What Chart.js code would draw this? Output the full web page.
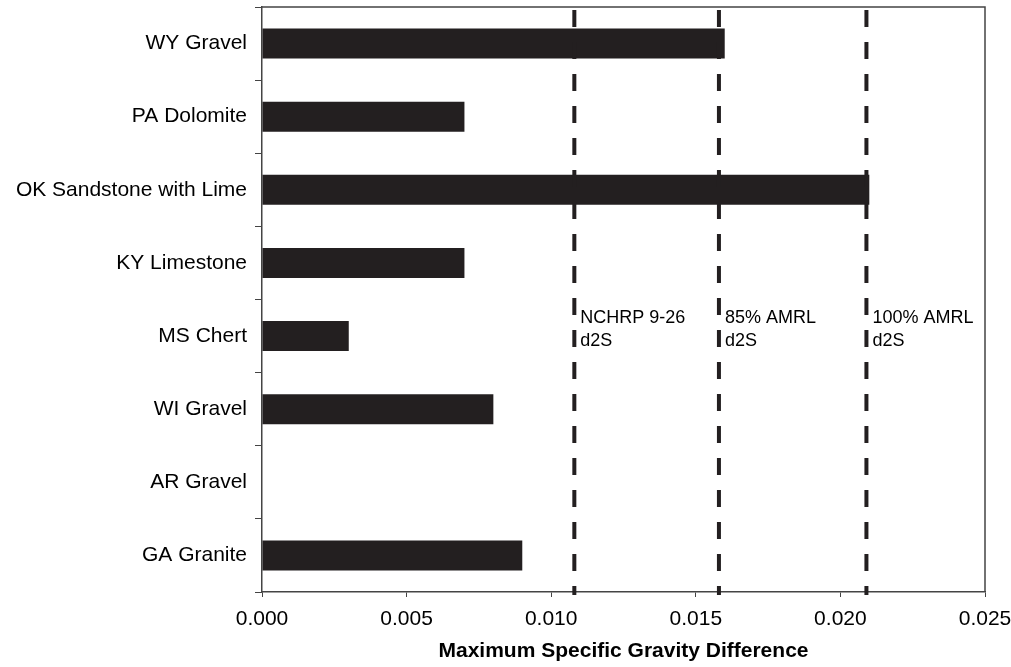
<!DOCTYPE html>
<html lang="en">
<head>
  <meta charset="UTF-8" />
  <title>Maximum Specific Gravity Difference</title>
  <style>
    body { margin: 0; background: #ffffff; }
    #wrap { width: 1011px; height: 667px; }
  </style>
  <script src="https://cdn.jsdelivr.net/npm/chart.js"></script>
</head>
<body>
  <div id="wrap"><canvas id="chart" width="1011" height="667"></canvas></div>
  <script>
    const materials = ["WY Gravel", "PA Dolomite", "OK Sandstone with Lime", "KY Limestone",
                       "MS Chert", "WI Gravel", "AR Gravel", "GA Granite"];
    const maxDiff = [0.016, 0.007, 0.021, 0.007, 0.003, 0.008, 0, 0.009];
    const limitValues = [0.0108, 0.0158, 0.0209];
    const limitLabels = [["NCHRP 9-26", "d2S"], ["85% AMRL", "d2S"], ["100% AMRL", "d2S"]];
    const xTicks = [0, 0.005, 0.010, 0.015, 0.020, 0.025];

    const ink = '#231f20';
    const fontFamily = '"Liberation Sans", Arial, Helvetica, sans-serif';

    // dashed limit lines + labels, and the box round the plot
    const limitLines = {
      id: 'limitLines',
      afterDatasetsDraw(chart) {
        const { ctx, chartArea, scales } = chart;
        ctx.save();
        ctx.strokeStyle = '#444';
        ctx.lineWidth = 1.5;
        ctx.beginPath();
        ctx.moveTo(chartArea.left, chartArea.top);
        ctx.lineTo(chartArea.right, chartArea.top);
        ctx.lineTo(chartArea.right, chartArea.bottom);
        ctx.stroke();

        const labelY = scales.y.getPixelForValue(4) - 18;
        limitValues.forEach((v, i) => {
          const x = scales.x.getPixelForValue(v);
          ctx.strokeStyle = ink;
          ctx.lineWidth = 4;
          ctx.setLineDash([17, 15]);
          ctx.beginPath();
          ctx.moveTo(x, chartArea.top + 3);
          ctx.lineTo(x, chartArea.bottom + 3);
          ctx.stroke();

          ctx.setLineDash([]);
          ctx.fillStyle = '#000';
          ctx.font = '18px ' + fontFamily;
          ctx.textAlign = 'left';
          ctx.textBaseline = 'middle';
          limitLabels[i].forEach((t, j) => {
            ctx.fillText(t, x + 6, labelY + j * 23);
          });
        });
        ctx.restore();
      }
    };

    // keep the plot box where the reference has it
    const noLabelPadding = axis => {
      axis.paddingTop = 0; axis.paddingBottom = 0;
      axis.paddingLeft = 0; axis.paddingRight = 0;
    };

    new Chart(document.getElementById('chart'), {
      type: 'bar',
      data: {
        labels: materials,
        datasets: [{
          data: maxDiff,
          backgroundColor: ink,
          borderWidth: 0,
          categoryPercentage: 1,
          barPercentage: 0.41
        }]
      },
      options: {
        indexAxis: 'y',
        responsive: false,
        animation: false,
        layout: { padding: { top: 7, right: 26, bottom: 0, left: 0 } },
        plugins: { legend: { display: false }, tooltip: { enabled: false } },
        scales: {
          x: {
            min: 0,
            max: 0.025,
            afterBuildTicks: axis => { axis.ticks = xTicks.map(v => ({ value: v })); },
            afterFit: axis => { axis.height = 75; noLabelPadding(axis); },
            grid: { drawOnChartArea: false, drawTicks: true, tickLength: 5, color: '#444' },
            border: { color: '#444', width: 1.5 },
            ticks: {
              color: '#000',
              padding: 10,
              maxRotation: 0,
              font: { family: fontFamily, size: 21 },
              callback: v => Number(v).toFixed(3)
            },
            title: {
              display: true,
              text: 'Maximum Specific Gravity Difference',
              color: '#000',
              padding: { top: 0, bottom: 3 },
              font: { family: fontFamily, size: 21, weight: 'bold' }
            }
          },
          y: {
            afterFit: axis => { axis.width = 262; noLabelPadding(axis); },
            grid: { offset: true, drawOnChartArea: false, drawTicks: true, tickLength: 7, color: '#444' },
            border: { color: '#444', width: 1.5 },
            ticks: {
              color: '#000',
              padding: 8,
              font: { family: fontFamily, size: 21 }
            }
          }
        }
      },
      plugins: [limitLines]
    });
  </script>
</body>
</html>
